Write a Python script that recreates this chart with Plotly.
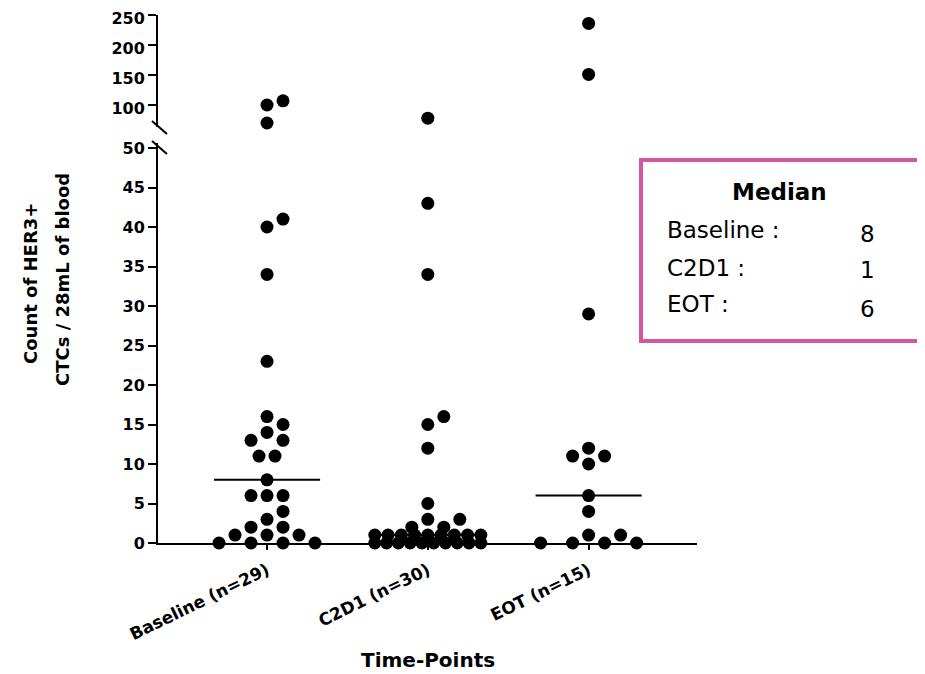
import numpy as np
import plotly.graph_objects as go

# ---------------- data ----------------
categories = ["Baseline (n=29)", "C2D1 (n=30)", "EOT (n=15)"]
baseline = [107, 100, 70, 41, 40, 34, 23, 16, 15, 14, 13, 13, 11, 11, 8,
            6, 6, 6, 4, 3, 2, 2, 1, 1, 1, 0, 0, 0, 0]
c2d1 = [78, 43, 34, 16, 15, 12, 5, 3, 3, 2, 2,
        1, 1, 1, 1, 1, 1, 1, 1, 1,
        0, 0, 0, 0, 0, 0, 0, 0, 0, 0]
eot = [236, 151, 29, 12, 11, 11, 10, 6, 4, 1, 1, 0, 0, 0, 0]
low_ticks = [0, 5, 10, 15, 20, 25, 30, 35, 40, 45, 50]
high_ticks = [100, 150, 200, 250]
series = [baseline, c2d1, eot]

# ---------------- layout geometry (page pixels) ----------------
OFF = 8                                     # page body margin
W, H = 925 - OFF, 674 - OFF
PL, PT = 158, 15                            # plot area top-left on the page
PW, PH = 539, 528
ML, MT = PL - OFF, PT - OFF
MR, MB = W - ML - PW, H - MT - PH
XR = [-0.678, 2.674]
PX_X = PW / (XR[1] - XR[0])                 # px per category unit
LOW_PX = 400                                # lower panel height px
LOW_MAX = 50 * LOW_PX / 395.0
HIGH_PX = 112                               # upper panel height px
HIGH_SCALE = 0.6                            # px per unit in upper panel
HIGH_MIN = 250 - HIGH_PX / HIGH_SCALE
LOW_DOM = [0, LOW_PX / PH]
HIGH_DOM = [1 - HIGH_PX / PH, 1]
BREAK = 50


def ypx(v):
    if v <= BREAK:
        return -v * LOW_PX / LOW_MAX
    return -(PH - HIGH_PX) - (v - HIGH_MIN) * HIGH_SCALE


def swarm(vals, D=15.0, step=16.0, maxhalf=53.0):
    vs = sorted(vals)
    uniq = sorted(set(vs))
    placed, out = [], []
    for v in uniq:
        n = vs.count(v)
        yp = ypx(v)
        neighbor = any(abs(ypx(u) - yp) < D for u in uniq if u != v)
        s = 2 * step if neighbor else step
        if n > 1:
            s = min(s, 2 * maxhalf / (n - 1))
        base = [(i - (n - 1) / 2) * s for i in range(n)]
        chosen = base
        for sh in [0, step, -step, 2 * step, -2 * step, 3 * step, -3 * step]:
            cand = [b + sh for b in base]
            if max(abs(c) for c in cand) > maxhalf + 1:
                continue
            if all(np.hypot(cx - px, yp - py) >= D - 0.5
                   for cx in cand for (px, py) in placed):
                chosen = cand
                break
        for c in chosen:
            placed.append((c, yp))
            out.append((v, c))
    return out


fig = go.Figure()
for i, vals in enumerate(series):
    pts = swarm(vals)
    lo = [(i + c / PX_X, v) for v, c in pts if v <= BREAK]
    hi = [(i + c / PX_X, v) for v, c in pts if v > BREAK]
    mk = dict(color="black", size=13)
    fig.add_trace(go.Scatter(x=[p[0] for p in lo], y=[p[1] for p in lo], mode="markers",
                             marker=mk, cliponaxis=False, xaxis="x", yaxis="y",
                             showlegend=False, hoverinfo="skip"))
    fig.add_trace(go.Scatter(x=[p[0] for p in hi], y=[p[1] for p in hi], mode="markers",
                             marker=mk, cliponaxis=False, xaxis="x2", yaxis="y2",
                             showlegend=False, hoverinfo="skip"))
    med = float(np.median(vals))
    fig.add_trace(go.Scatter(x=[i - 0.33, i + 0.33], y=[med, med], mode="lines",
                             line=dict(color="black", width=2), cliponaxis=False,
                             xaxis="x", yaxis="y", showlegend=False, hoverinfo="skip"))

BOLD = dict(family="DejaVu Sans", size=16, color="black", weight="bold")
axis_common = dict(showline=True, linecolor="black", linewidth=2, ticks="outside",
                   tickcolor="black", tickwidth=2, showgrid=False, zeroline=False,
                   tickfont=BOLD, automargin=False, ticklabeloverflow="allow")

fig.update_layout(
    template="none",
    width=W, height=H, margin=dict(l=ML, r=MR, t=MT, b=MB, pad=0),
    paper_bgcolor="white", plot_bgcolor="white", showlegend=False,
    xaxis=dict(domain=[0, 1], anchor="y", range=XR, tickmode="array",
               tickvals=[0, 1, 2], ticktext=categories, tickangle=-26, ticklen=5,
               ticklabelstandoff=4, **{**axis_common,
                                       "tickfont": dict(BOLD, size=17)}),
    xaxis2=dict(domain=[0, 1], anchor="y2", range=XR, visible=False),
    yaxis=dict(domain=LOW_DOM, anchor="x", range=[0, LOW_MAX], tickmode="array",
               tickvals=low_ticks, ticklen=8, **axis_common),
    yaxis2=dict(domain=HIGH_DOM, anchor="x2", range=[HIGH_MIN, 250], tickmode="array",
                tickvals=high_ticks, ticklen=8, ticklabelshift=3, **axis_common),
)


def px2x(px):
    return (px - PL) / PW


def px2y(py):
    return 1 - (py - PT) / PH


# axis break marks
for (x0, y0, x1, y1) in [(152, 121, 167, 134), (152, 141, 167, 154)]:
    fig.add_shape(type="line", xref="paper", yref="paper",
                  x0=px2x(x0), y0=px2y(y0), x1=px2x(x1), y1=px2y(y1),
                  line=dict(color="black", width=2))

TITLE = dict(family="DejaVu Sans", size=18, color="black", weight="bold")
# axis titles
fig.add_annotation(text="Count of HER3+", xref="paper", yref="paper", x=px2x(30), y=px2y(284),
                   xanchor="center", yanchor="middle", textangle=-90, showarrow=False, font=TITLE)
fig.add_annotation(text="CTCs / 28mL of blood", xref="paper", yref="paper", x=px2x(62),
                   y=px2y(280), xanchor="center", yanchor="middle", textangle=-90,
                   showarrow=False, font=TITLE)
fig.add_annotation(text="Time-Points", xref="paper", yref="paper", x=px2x(428), y=px2y(660),
                   xanchor="center", yanchor="middle", showarrow=False,
                   font=dict(family="DejaVu Sans", size=20, color="black", weight="bold"))

# median box
fig.add_shape(type="rect", xref="paper", yref="paper",
              x0=px2x(641), y0=px2y(341), x1=px2x(919), y1=px2y(160),
              line=dict(color="#D5559F", width=4), fillcolor="white")
fig.add_annotation(text="Median", xref="paper", yref="paper", x=px2x(779), y=px2y(192),
                   xanchor="center", yanchor="middle", showarrow=False,
                   font=dict(family="DejaVu Sans", size=23, color="black", weight="bold"))
REG = dict(family="DejaVu Sans", size=23, color="black")
rows_y = [(230, 234), (268, 270), (304, 309)]
labels = ["Baseline :", "C2D1 :", "EOT :"]
for lab, vals, (ly, vy) in zip(labels, series, rows_y):
    fig.add_annotation(text=lab, xref="paper", yref="paper", x=px2x(665), y=px2y(ly),
                       xanchor="left", yanchor="middle", showarrow=False, font=REG)
    fig.add_annotation(text=f"{np.median(vals):g}", xref="paper", yref="paper",
                       x=px2x(867), y=px2y(vy), xanchor="center", yanchor="middle",
                       showarrow=False, font=REG)

fig.write_html("out.html")
